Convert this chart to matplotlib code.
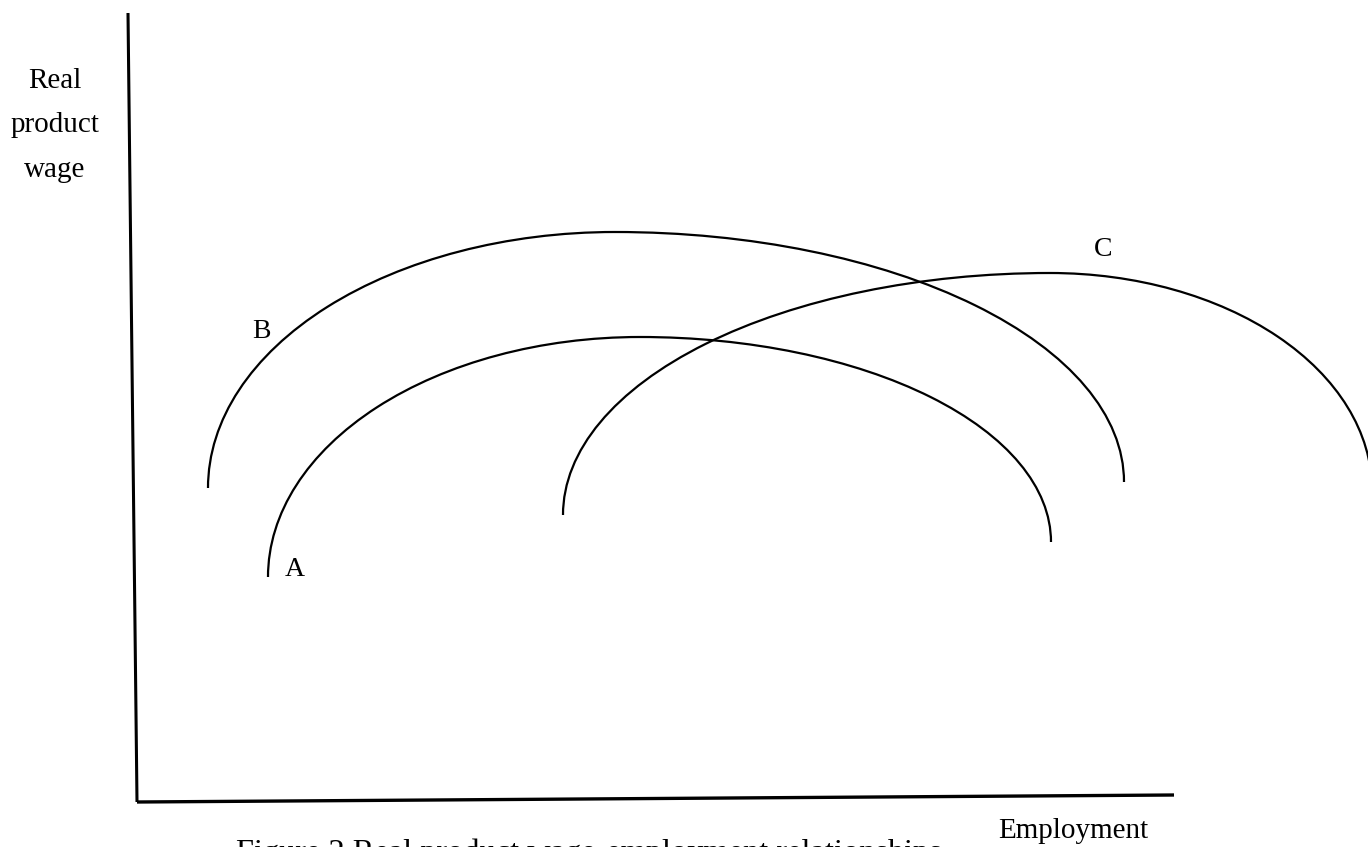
import matplotlib
matplotlib.use("Agg")
import matplotlib.pyplot as plt
from matplotlib.patches import Arc

plt.rcParams['font.family'] = ['Liberation Serif', 'DejaVu Serif']

# ---- data (employment, real product wage) in arbitrary units ----
curve_names = ['A', 'B', 'C']
left_end_x = [13.1, 7.1, 42.6]
left_end_y = [22.5, 31.4, 28.7]
peak_x = [50.3, 47.8, 91.3]
peak_y = [46.5, 57.0, 52.9]
right_end_x = [91.4, 98.7, 123.5]
right_end_y = [26.0, 32.0, 31.2]

label_x = [15.8, 12.4, 96.6]
label_y = [23.2, 47.0, 55.2]

y_label_lines = ['Real', 'product', 'wage']
x_label = 'Employment'
caption = 'Figure 2 Real product wage-employment relationships'

# ---- figure ----
W, H = 1368, 847
fig = plt.figure(figsize=(W / 100, H / 100), dpi=100)
ax = fig.add_axes([0, 0, 1, 1])
ax.set_xlim(-13.7, 123.1)
ax.set_ylim(-4.5, 80.2)
ax.axis('off')

# axes lines (slightly skewed like the scanned original)
ax.plot([-0.9, 0.0], [78.9, 0.0], color='black', lw=2.2, solid_capstyle='butt')
ax.plot([0.0, 103.7], [0.0, 0.7], color='black', lw=2.4, solid_capstyle='butt')

# curves: each drawn as two quarter-ellipse arcs meeting at the peak
for i, name in enumerate(curve_names):
    # left half
    a_l = peak_x[i] - left_end_x[i]
    b_l = peak_y[i] - left_end_y[i]
    ax.add_patch(Arc((peak_x[i], left_end_y[i]), 2 * a_l, 2 * b_l,
                     theta1=90, theta2=180, color='black', lw=1.6))
    # right half
    a_r = right_end_x[i] - peak_x[i]
    b_r = peak_y[i] - right_end_y[i]
    ax.add_patch(Arc((peak_x[i], right_end_y[i]), 2 * a_r, 2 * b_r,
                     theta1=0, theta2=90, color='black', lw=1.6))
    ax.text(label_x[i], label_y[i], name, fontsize=20, ha='center', va='center')

# axis titles
for j, line in enumerate(y_label_lines):
    fig.text(55 / W, 1 - (88 + 44.5 * j) / H, line, fontsize=21,
             ha='center', va='baseline')
fig.text(1073 / W, 1 - 838 / H, x_label, fontsize=21, ha='center', va='baseline')
# caption (partly cut off by the bottom edge, as in the original scan)
fig.text(236 / W, 1 - 861 / H, caption, fontsize=23.3, ha='left', va='baseline')

fig.savefig('out.png', dpi=100, facecolor='white')
